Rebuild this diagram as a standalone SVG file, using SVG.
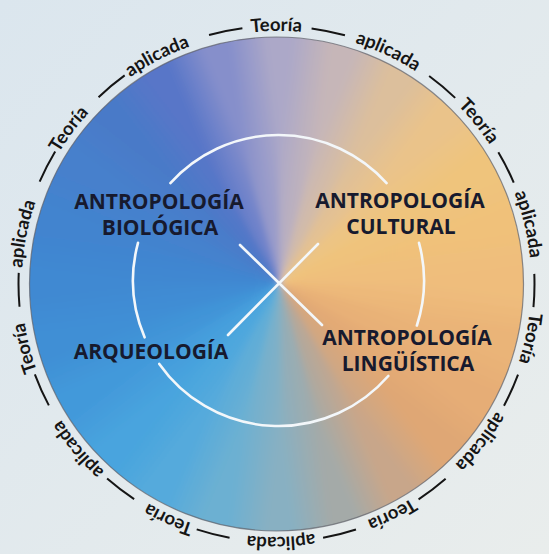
<svg xmlns="http://www.w3.org/2000/svg" xmlns:xlink="http://www.w3.org/1999/xlink" width="549" height="554" viewBox="0 0 549 554">
<style>
.lbl{font-family:"Open Sans","Liberation Sans",sans-serif;font-weight:700;font-size:21px;fill:#171a2e;text-anchor:middle}
.ring{font-family:Lato,"Open Sans","Liberation Sans",sans-serif;font-weight:700;font-size:18.5px;fill:#151515;text-anchor:middle}
.wl{fill:none;stroke:#f3f7fa;stroke-width:2.6;stroke-linecap:round}
</style>
<defs>
<linearGradient id="bg" x1="0" y1="0" x2="1" y2="1">
<stop offset="0" stop-color="#dbe6ee"/><stop offset="1" stop-color="#e9edec"/>
</linearGradient>
<clipPath id="disc"><circle cx="276.5" cy="284" r="247"/></clipPath>
<filter id="soft" x="-10%" y="-10%" width="120%" height="120%"><feGaussianBlur stdDeviation="3"/></filter>
<path id="wedge" d="M0,0 L299.98,-3.14 A300,300 0 0 1 288.95,80.68 Z"/>
<linearGradient id="gb" gradientUnits="userSpaceOnUse" x1="150" y1="0" x2="144.89" y2="38.82"><stop offset="0" stop-color="#000"/></linearGradient>
<linearGradient id="w0" href="#gb"><stop offset="0" stop-color="#efbd7c"/><stop offset="1" stop-color="#eab478"/></linearGradient>
<linearGradient id="w1" href="#gb"><stop offset="0" stop-color="#eab478"/><stop offset="1" stop-color="#e6ad76"/></linearGradient>
<linearGradient id="w2" href="#gb"><stop offset="0" stop-color="#e6ad76"/><stop offset="1" stop-color="#dfa775"/></linearGradient>
<linearGradient id="w3" href="#gb"><stop offset="0" stop-color="#dfa775"/><stop offset="1" stop-color="#c8a68a"/></linearGradient>
<linearGradient id="w4" href="#gb"><stop offset="0" stop-color="#c8a68a"/><stop offset="1" stop-color="#a4aaa8"/></linearGradient>
<linearGradient id="w5" href="#gb"><stop offset="0" stop-color="#a4aaa8"/><stop offset="1" stop-color="#88b0c2"/></linearGradient>
<linearGradient id="w6" href="#gb"><stop offset="0" stop-color="#88b0c2"/><stop offset="1" stop-color="#6cb0d2"/></linearGradient>
<linearGradient id="w7" href="#gb"><stop offset="0" stop-color="#6cb0d2"/><stop offset="1" stop-color="#55aadc"/></linearGradient>
<linearGradient id="w8" href="#gb"><stop offset="0" stop-color="#55aadc"/><stop offset="1" stop-color="#48a4de"/></linearGradient>
<linearGradient id="w9" href="#gb"><stop offset="0" stop-color="#48a4de"/><stop offset="1" stop-color="#4399da"/></linearGradient>
<linearGradient id="w10" href="#gb"><stop offset="0" stop-color="#4399da"/><stop offset="1" stop-color="#408fd5"/></linearGradient>
<linearGradient id="w11" href="#gb"><stop offset="0" stop-color="#408fd5"/><stop offset="1" stop-color="#3f89d2"/></linearGradient>
<linearGradient id="w12" href="#gb"><stop offset="0" stop-color="#3f89d2"/><stop offset="1" stop-color="#4284cf"/></linearGradient>
<linearGradient id="w13" href="#gb"><stop offset="0" stop-color="#4284cf"/><stop offset="1" stop-color="#4680cc"/></linearGradient>
<linearGradient id="w14" href="#gb"><stop offset="0" stop-color="#4680cc"/><stop offset="1" stop-color="#4a7ac8"/></linearGradient>
<linearGradient id="w15" href="#gb"><stop offset="0" stop-color="#4a7ac8"/><stop offset="1" stop-color="#5876c8"/></linearGradient>
<linearGradient id="w16" href="#gb"><stop offset="0" stop-color="#5876c8"/><stop offset="1" stop-color="#868fcb"/></linearGradient>
<linearGradient id="w17" href="#gb"><stop offset="0" stop-color="#868fcb"/><stop offset="1" stop-color="#aca8c8"/></linearGradient>
<linearGradient id="w18" href="#gb"><stop offset="0" stop-color="#aca8c8"/><stop offset="1" stop-color="#c6b6b8"/></linearGradient>
<linearGradient id="w19" href="#gb"><stop offset="0" stop-color="#c6b6b8"/><stop offset="1" stop-color="#dcbf9c"/></linearGradient>
<linearGradient id="w20" href="#gb"><stop offset="0" stop-color="#dcbf9c"/><stop offset="1" stop-color="#eac38a"/></linearGradient>
<linearGradient id="w21" href="#gb"><stop offset="0" stop-color="#eac38a"/><stop offset="1" stop-color="#efc47c"/></linearGradient>
<linearGradient id="w22" href="#gb"><stop offset="0" stop-color="#efc47c"/><stop offset="1" stop-color="#f0c17a"/></linearGradient>
<linearGradient id="w23" href="#gb"><stop offset="0" stop-color="#f0c17a"/><stop offset="1" stop-color="#efbd7c"/></linearGradient>
<path id="ringpath" d="M220.32,37.84 A252.5,252.5 0 1 1 332.68,530.16 A252.5,252.5 0 1 1 220.32,37.84"/>
</defs>

<rect width="549" height="554" fill="url(#bg)"/>

<g id="disc-fill" clip-path="url(#disc)">
<g filter="url(#soft)">
<use href="#wedge" fill="url(#w0)" transform="translate(280,283) rotate(0)"/>
<use href="#wedge" fill="url(#w1)" transform="translate(280,283) rotate(15)"/>
<use href="#wedge" fill="url(#w2)" transform="translate(280,283) rotate(30)"/>
<use href="#wedge" fill="url(#w3)" transform="translate(280,283) rotate(45)"/>
<use href="#wedge" fill="url(#w4)" transform="translate(280,283) rotate(60)"/>
<use href="#wedge" fill="url(#w5)" transform="translate(280,283) rotate(75)"/>
<use href="#wedge" fill="url(#w6)" transform="translate(280,283) rotate(90)"/>
<use href="#wedge" fill="url(#w7)" transform="translate(280,283) rotate(105)"/>
<use href="#wedge" fill="url(#w8)" transform="translate(280,283) rotate(120)"/>
<use href="#wedge" fill="url(#w9)" transform="translate(280,283) rotate(135)"/>
<use href="#wedge" fill="url(#w10)" transform="translate(280,283) rotate(150)"/>
<use href="#wedge" fill="url(#w11)" transform="translate(280,283) rotate(165)"/>
<use href="#wedge" fill="url(#w12)" transform="translate(280,283) rotate(180)"/>
<use href="#wedge" fill="url(#w13)" transform="translate(280,283) rotate(195)"/>
<use href="#wedge" fill="url(#w14)" transform="translate(280,283) rotate(210)"/>
<use href="#wedge" fill="url(#w15)" transform="translate(280,283) rotate(225)"/>
<use href="#wedge" fill="url(#w16)" transform="translate(280,283) rotate(240)"/>
<use href="#wedge" fill="url(#w17)" transform="translate(280,283) rotate(255)"/>
<use href="#wedge" fill="url(#w18)" transform="translate(280,283) rotate(270)"/>
<use href="#wedge" fill="url(#w19)" transform="translate(280,283) rotate(285)"/>
<use href="#wedge" fill="url(#w20)" transform="translate(280,283) rotate(300)"/>
<use href="#wedge" fill="url(#w21)" transform="translate(280,283) rotate(315)"/>
<use href="#wedge" fill="url(#w22)" transform="translate(280,283) rotate(330)"/>
<use href="#wedge" fill="url(#w23)" transform="translate(280,283) rotate(345)"/>
</g>
</g>
<circle cx="276.5" cy="284" r="247" fill="none" stroke="#5e6068" stroke-width="1.2" stroke-opacity="0.7"/>

<g id="outer-ring">
<circle cx="276.5" cy="284" r="258" fill="none" stroke="#151515" stroke-width="2" stroke-dasharray="34 69.57 34 94.01" stroke-dashoffset="10.88"/>
<text class="ring"><textPath href="#ringpath" startOffset="56.66">Teoría</textPath></text>
<text class="ring"><textPath href="#ringpath" startOffset="169.98">aplicada</textPath></text>
<text class="ring"><textPath href="#ringpath" startOffset="283.30">Teoría</textPath></text>
<text class="ring"><textPath href="#ringpath" startOffset="396.62">aplicada</textPath></text>
<text class="ring"><textPath href="#ringpath" startOffset="509.94">Teoría</textPath></text>
<text class="ring"><textPath href="#ringpath" startOffset="623.26">aplicada</textPath></text>
<text class="ring"><textPath href="#ringpath" startOffset="736.58">Teoría</textPath></text>
<text class="ring"><textPath href="#ringpath" startOffset="849.90">aplicada</textPath></text>
<text class="ring"><textPath href="#ringpath" startOffset="963.22">Teoría</textPath></text>
<text class="ring"><textPath href="#ringpath" startOffset="1076.54">aplicada</textPath></text>
<text class="ring"><textPath href="#ringpath" startOffset="1189.86">Teoría</textPath></text>
<text class="ring"><textPath href="#ringpath" startOffset="1303.18">aplicada</textPath></text>
<text class="ring"><textPath href="#ringpath" startOffset="1416.50">Teoría</textPath></text>
<text class="ring"><textPath href="#ringpath" startOffset="1529.82">aplicada</textPath></text>
</g>

<g id="connectors">
<path class="wl" d="M170.4,183.1 A145.5,145.5 0 0 1 386.6,183.1"/>
<path class="wl" d="M144.6,337.3 A145.5,145.5 0 0 1 138.0,242.8"/>
<path class="wl" d="M419.0,242.8 A145.5,145.5 0 0 1 416.9,325.5"/>
<path class="wl" d="M388.3,376.0 A145.5,145.5 0 0 1 159.3,363.9"/>
<line class="wl" x1="240" y1="245" x2="322" y2="325"/>
<line class="wl" x1="318" y1="244" x2="228" y2="335"/>
</g>

<g id="node-biologica">
<text class="lbl" x="159" y="209">ANTROPOLOGÍA</text>
<text class="lbl" x="160" y="235">BIOLÓGICA</text>
</g>
<g id="node-cultural">
<text class="lbl" x="400" y="208">ANTROPOLOGÍA</text>
<text class="lbl" x="401" y="234">CULTURAL</text>
</g>
<g id="node-arqueologia">
<text class="lbl" x="151" y="359">ARQUEOLOGÍA</text>
</g>
<g id="node-linguistica">
<text class="lbl" x="407" y="345">ANTROPOLOGÍA</text>
<text class="lbl" x="408" y="371">LINGÜÍSTICA</text>
</g>
</svg>
